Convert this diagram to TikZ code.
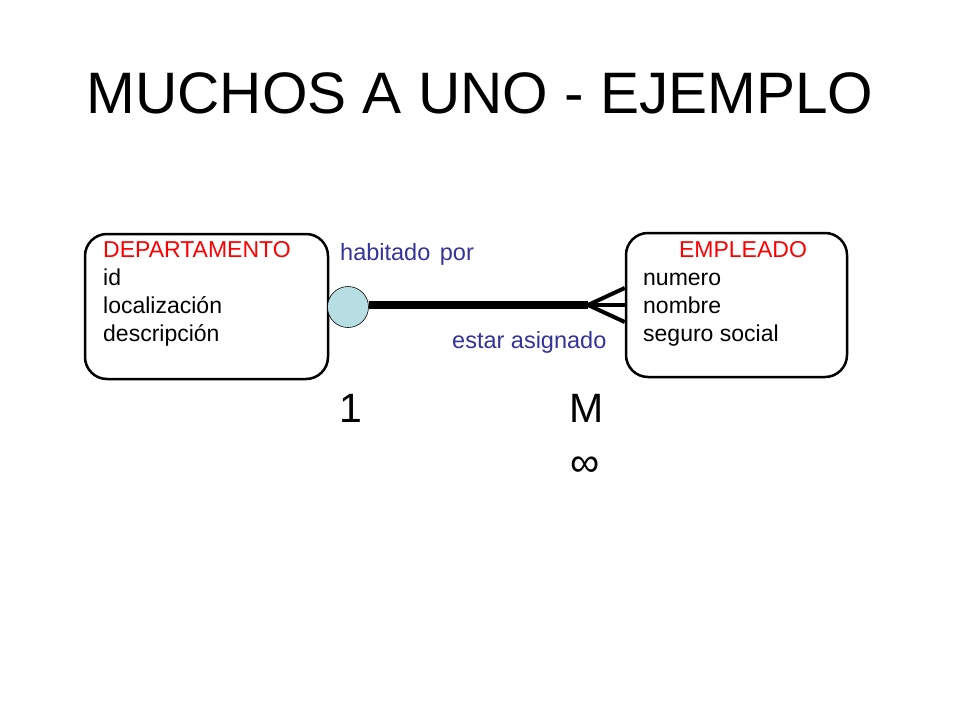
\documentclass[tikz,border=0pt]{standalone}
\usepackage{fontspec}
\setmainfont{Liberation Sans}
\usepackage{xcolor}
\usetikzlibrary{positioning}
\definecolor{relblue}{HTML}{333399}
\definecolor{circfill}{HTML}{B7DEE3}
\tikzset{
  entity/.style={draw, line width=2.5pt, rounded corners=22pt, minimum width=243pt, minimum height=145pt},
  attr/.style={anchor=base west, inner sep=0pt, font=\fontsize{23}{28}\selectfont},
  ename/.style={attr, text=red},
  rel/.style={anchor=base west, inner sep=0pt, text=relblue, font=\fontsize{23.5}{28}\selectfont},
  card/.style={anchor=base west, inner sep=0pt, font=\fontsize{41}{48}\selectfont}
}

\begin{document}
\begin{tikzpicture}[x=1pt,y=-1pt]
  \useasboundingbox (0,0) rectangle (960,720);
  \node [anchor=base, font=\fontsize{58.5}{70}\selectfont] (title) at (480,113) {MUCHOS A UNO - EJEMPLO};

  % entidades
  \node [entity] (dep) at (206.5,306.5) {};
  \node [entity, minimum width=221pt, minimum height=144pt] (emp) at (736.5,305) {};

  \node [ename] (depname) at (103,257) {DEPARTAMENTO};
  \node [attr] (depid) at (103,285) {id};
  \node [attr] (deploc) at (103,313) {localización};
  \node [attr] (depdesc) at (103,341) {descripción};

  \node [ename, anchor=base] (empname) at (743,257) {EMPLEADO};
  \node [attr] (empnum) at (643,285) {numero};
  \node [attr] (empnom) at (643,313) {nombre};
  \node [attr] (empseg) at (643,341) {seguro social};

  % relacion
  \node [circle, draw, line width=0.6pt, fill=circfill, minimum size=41pt, inner sep=0pt] (one) at (348,307) {};
  \coordinate (fork) at (588,305);
  \draw [line width=8pt] (one.east |- fork) -- (fork);
  \draw [line width=4pt] (fork) -- (emp.west |- fork);
  \draw [line width=4pt] (fork) -- ([yshift=-17pt]emp.west |- fork);
  \draw [line width=4pt] (fork) -- ([yshift=17pt]emp.west |- fork);

  \node [rel] (hab) at (340,260) {habitado\hspace{3pt} por};
  \node [rel] (asig) at (452,348) {estar asignado};

  \node [card] (c1) at (339,422) {1};
  \node [card] (cm) at (569,422) {M};
  \node [card, anchor=base] (cinf) at (585,476) {∞};
\end{tikzpicture}
\end{document}
